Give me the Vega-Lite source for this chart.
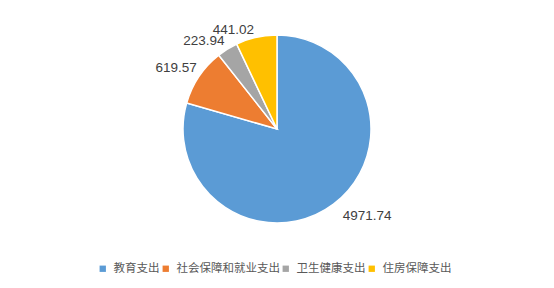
{
  "$schema": "https://vega.github.io/schema/vega-lite/v6.json",
  "width": 554,
  "height": 258,
  "autosize": {"type": "none"},
  "padding": {"left": 0, "top": 0, "right": 0, "bottom": 30},
  "background": "#ffffff",
  "config": {
    "view": {"stroke": null}
  },
  "data": {
    "values": [
      {"name": "教育支出", "value": 4971.74, "i": 1},
      {"name": "社会保障和就业支出", "value": 619.57, "i": 2},
      {"name": "卫生健康支出", "value": 223.94, "i": 3},
      {"name": "住房保障支出", "value": 441.02, "i": 4}
    ]
  },
  "encoding": {
    "theta": {"field": "value", "type": "quantitative", "stack": true},
    "order": {"field": "i", "type": "quantitative"}
  },
  "layer": [
    {
      "mark": {"type": "arc", "outerRadius": 94, "stroke": "#ffffff", "strokeWidth": 1.5},
      "encoding": {
        "color": {
          "field": "name",
          "type": "nominal",
          "sort": ["教育支出", "社会保障和就业支出", "卫生健康支出", "住房保障支出"],
          "scale": {
            "domain": ["教育支出", "社会保障和就业支出", "卫生健康支出", "住房保障支出"],
            "range": ["#5B9BD5", "#ED7D31", "#A5A5A5", "#FFC000"]
          },
          "legend": {
            "title": null,
            "orient": "none",
            "direction": "horizontal",
            "gridAlign": "none",
            "legendX": 97,
            "legendY": 263,
            "symbolType": "square",
            "symbolSize": 40,
            "symbolStrokeWidth": 0,
            "labelFont": "Noto Sans CJK SC",
            "labelFontSize": 11.5,
            "labelColor": "#595959",
            "labelOffset": 5,
            "columnPadding": 0,
            "labelLimit": 300
          }
        }
      }
    },
    {
      "mark": {"type": "text", "radius": 125, "dx": 15, "dy": -13, "font": "Liberation Sans", "fontSize": 13.5, "fill": "#404040"},
      "encoding": {"text": {"condition": {"test": "datum.i == 1", "field": "value", "type": "quantitative", "format": ".2f"}, "value": ""}}
    },
    {
      "mark": {"type": "text", "radius": 118, "dx": -3, "dy": 5, "font": "Liberation Sans", "fontSize": 13.5, "fill": "#404040"},
      "encoding": {"text": {"condition": {"test": "datum.i == 2", "field": "value", "type": "quantitative", "format": ".2f"}, "value": ""}}
    },
    {
      "mark": {"type": "text", "radius": 114, "dx": -13, "dy": 9, "font": "Liberation Sans", "fontSize": 13.5, "fill": "#404040"},
      "encoding": {"text": {"condition": {"test": "datum.i == 3", "field": "value", "type": "quantitative", "format": ".2f"}, "value": ""}}
    },
    {
      "mark": {"type": "text", "radius": 108, "dx": -20, "dy": 6, "font": "Liberation Sans", "fontSize": 13.5, "fill": "#404040"},
      "encoding": {"text": {"condition": {"test": "datum.i == 4", "field": "value", "type": "quantitative", "format": ".2f"}, "value": ""}}
    }
  ]
}
